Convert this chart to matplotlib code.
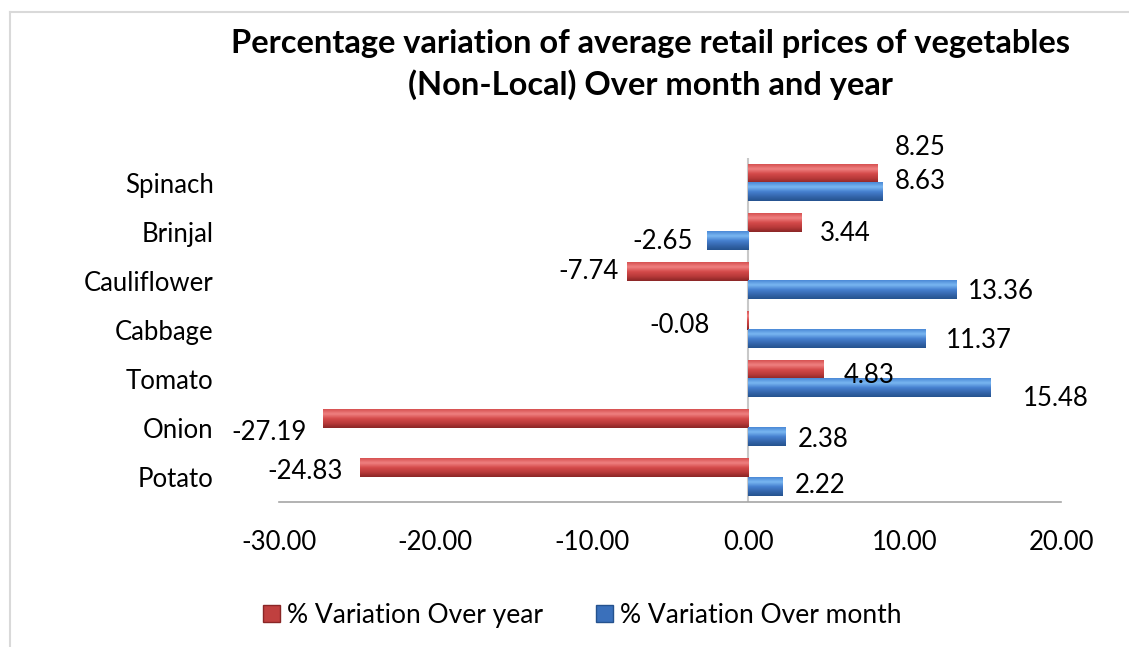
import numpy as np
import matplotlib.pyplot as plt
from matplotlib.colors import LinearSegmentedColormap
from matplotlib.patches import Patch
from matplotlib.lines import Line2D

plt.rcParams['font.family'] = ['Lato', 'DejaVu Sans']

vegetables = ['Potato', 'Onion', 'Tomato', 'Cabbage', 'Cauliflower', 'Brinjal', 'Spinach']
over_year = [-24.83, -27.19, 4.83, -0.08, -7.74, 3.44, 8.25]
over_month = [2.22, 2.38, 15.48, 11.37, 13.36, -2.65, 8.63]

# label offsets from the bar end, in pixels (dx, dy up)
year_off = [(-55, -3), (-54, -13), (45, -5), (-67, -5), (-39, 0), (43, -11), (43, 26)]
month_off = [(37, 1), (38, -2), (65, -10), (53, -1), (44, -2), (-44, -1), (37, 10)]

red_cmap = LinearSegmentedColormap.from_list('r', ['#8a2626', '#b93a3a', '#d44a4a', '#f08282', '#d65050'])
blue_cmap = LinearSegmentedColormap.from_list('b', ['#25528e', '#3567ad', '#4680d0', '#7ab8f2', '#4a88d6'])

fig = plt.figure(figsize=(11.29, 6.47), dpi=100)
ax = fig.add_axes([0.2471, 0.2241, 0.6927, 0.5317])

y = np.arange(len(vegetables))
h = 0.37
bars_y = ax.barh(y + h / 2, over_year, height=h, color='#c0403f', zorder=2)
bars_m = ax.barh(y - h / 2, over_month, height=h, color='#3a70bb', zorder=2)

grad = np.linspace(0, 1, 64).reshape(-1, 1)
for bars, cmap in [(bars_y, red_cmap), (bars_m, blue_cmap)]:
    for b in bars:
        x0, y0 = b.get_x(), b.get_y()
        w, hh = b.get_width(), b.get_height()
        ax.imshow(grad, extent=(x0, x0 + w, y0, y0 + hh), origin='lower',
                  cmap=cmap, aspect='auto', zorder=3, interpolation='bicubic')

for bars, vals, offs in [(bars_y, over_year, year_off), (bars_m, over_month, month_off)]:
    for b, v, (dx, dy) in zip(bars, vals, offs):
        ax.annotate(f'{v:.2f}', xy=(v, b.get_y() + b.get_height() / 2),
                    xytext=(dx, dy), textcoords='offset pixels',
                    ha='center', va='center', fontsize=18.5, color='black', zorder=5)

ax.set_xlim(-30, 20)
ax.set_ylim(-0.5, len(vegetables) - 0.5)
ax.set_xticks([-30, -20, -10, 0, 10, 20])
ax.set_xticklabels([f'{t:.2f}' for t in [-30, -20, -10, 0, 10, 20]])
ax.set_yticks(y)
ax.set_yticklabels(vegetables)
ax.tick_params(axis='x', length=0, pad=20, labelsize=18.5)
ax.tick_params(axis='y', length=0, pad=47, labelsize=18.5)
for s in ['top', 'right', 'left']:
    ax.spines[s].set_visible(False)
ax.spines['bottom'].set_color('#a6a6a6')
ax.spines['bottom'].set_linewidth(1.2)
ax.axvline(0, color='#c8c8c8', lw=1.5, zorder=1)

fig.text(0.576, 0.900, 'Percentage variation of average retail prices of vegetables\n(Non-Local) Over month and year',
         ha='center', va='center', fontsize=23.5, fontweight='bold', linespacing=1.45)

handles = [Patch(facecolor='#c0403f', edgecolor='#8a2626'),
           Patch(facecolor='#3a70bb', edgecolor='#25528e')]
fig.legend(handles, ['% Variation Over year', '% Variation Over month'],
           loc='center', bbox_to_anchor=(0.516, 0.049), ncol=2, frameon=False,
           fontsize=19, handlelength=0.62, handleheight=0.62, handletextpad=0.3,
           columnspacing=2.0)

# chart area border
fig.add_artist(Line2D([10 / 1129, 1], [1 - 12 / 647, 1 - 12 / 647], color='#d9d9d9', lw=1.5))
fig.add_artist(Line2D([10 / 1129, 10 / 1129], [0, 1 - 12 / 647], color='#d9d9d9', lw=1.5))

fig.savefig('out.png', dpi=100)
